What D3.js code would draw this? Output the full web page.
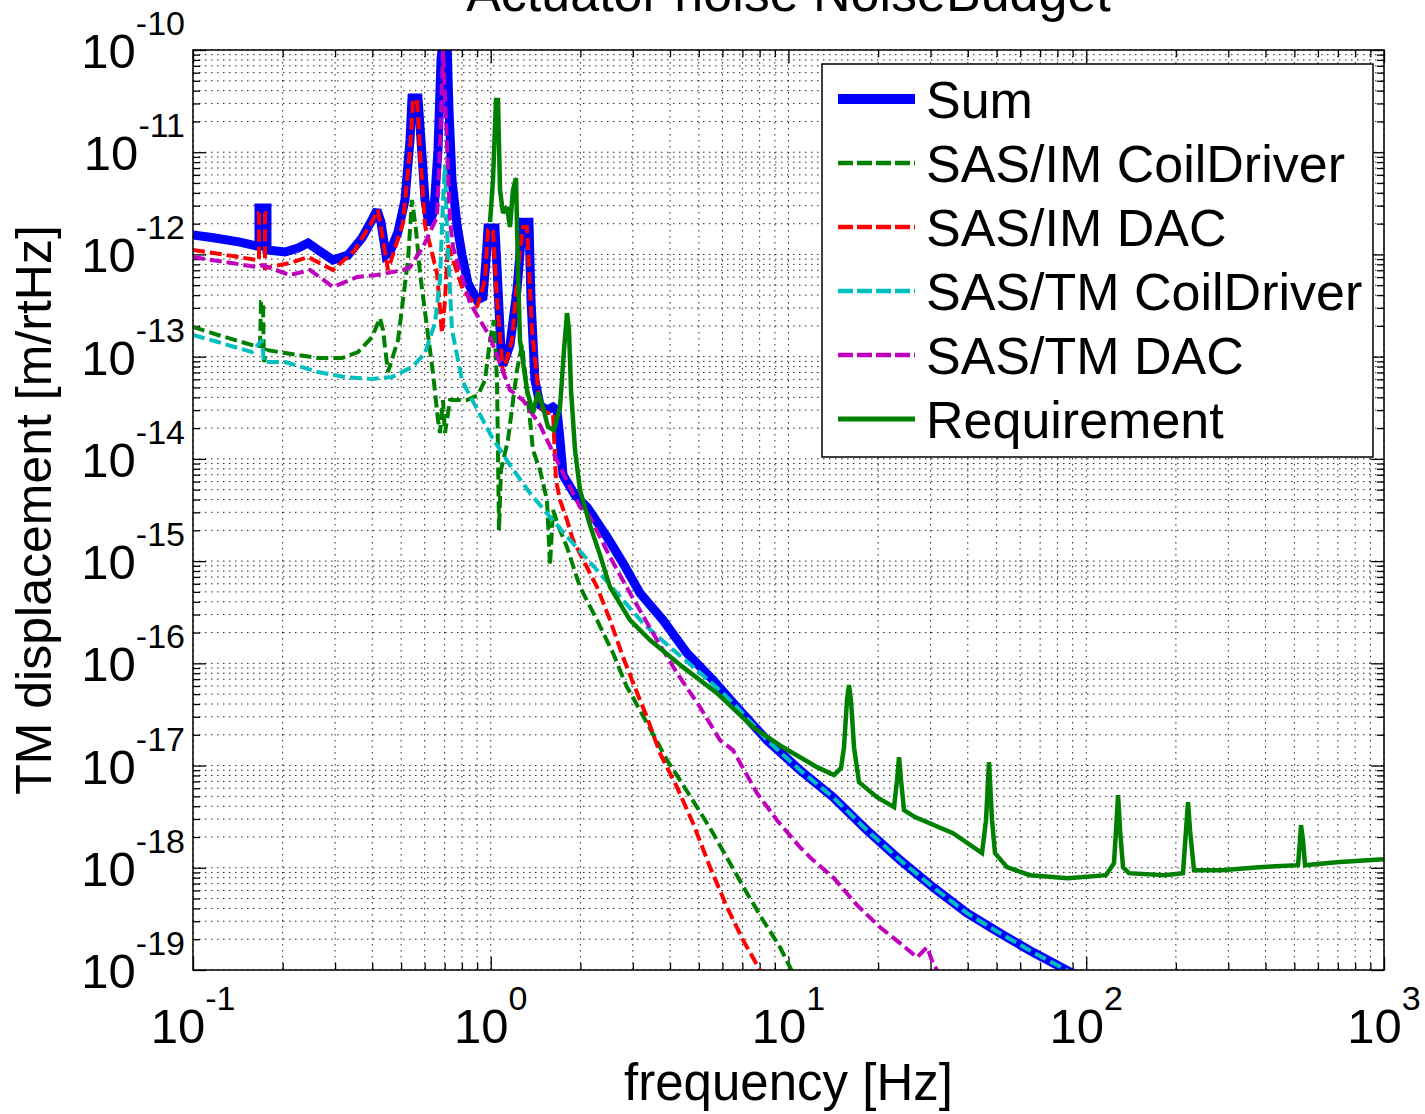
<!DOCTYPE html>
<html><head><meta charset="utf-8">
<script src="https://cdn.jsdelivr.net/npm/d3@7"></script>
<style>
html,body{margin:0;padding:0;background:#fff;}
svg{display:block;font-family:"Liberation Sans", Arial, Helvetica, sans-serif;}
</style></head><body>
<svg id="chart" width="1425" height="1114"></svg>
<script>
// ---------------- data ----------------
const titleText = "Actuator noise NoiseBudget";
const xLabelText = "frequency [Hz]";
const yLabelText = "TM displacement [m/rtHz]";
const xTickExponents = [-1, 0, 1, 2, 3];
const yTickExponents = [-19, -18, -17, -16, -15, -14, -13, -12, -11, -10];
const seriesNames = ["Sum", "SAS/IM CoilDriver", "SAS/IM DAC", "SAS/TM CoilDriver", "SAS/TM DAC", "Requirement"];

// [frequency Hz, displacement m/rtHz]
const sumData = [
 [0.1,1.548e-12],[0.1186,1.447e-12],[0.1438,1.322e-12],[0.164,1.208e-12],[0.1666,1.208e-12],[0.1666,2.84e-12],
 [0.1772,2.84e-12],[0.1772,1.104e-12],[0.2037,1.056e-12],[0.2253,1.155e-12],[0.2434,1.293e-12],[0.263,1.104e-12],
 [0.2953,8.81e-13],[0.3316,9.86e-13],[0.3695,1.447e-12],[0.3992,2.17e-12],[0.415,2.72e-12],[0.4279,2.07e-12],
 [0.4448,9.86e-13],[0.4588,1.056e-12],[0.4881,1.657e-12],[0.5152,3.41e-12],[0.5356,1.316e-11],[0.5439,3.39e-11],
 [0.5697,3.39e-11],[0.583,1.316e-11],[0.6014,3.41e-12],[0.6203,1.94e-12],[0.6447,2.72e-12],[0.665,1.051e-11],
 [0.6806,7.98e-11],[0.6912,1.25e-10],[0.7129,1.25e-10],[0.724,2.59e-11],[0.7411,5.35e-12],[0.7704,1.94e-12],
 [0.8008,9.86e-13],[0.8387,5.25e-13],[0.8991,3.58e-13],[0.9419,3.83e-13],[0.9641,8.81e-13],[0.979,1.813e-12],
 [1.0335,1.813e-12],[1.0495,7.53e-13],[1.0824,1.16e-13],[1.0993,8.28e-14],[1.1603,1.299e-13],[1.225,4.48e-13],
 [1.2635,1.383e-12],[1.2832,2.07e-12],[1.3441,2.07e-12],[1.3651,3.58e-13],[1.4079,5.9e-14],[1.4634,3.36e-14],
 [1.5449,3.0e-14],[1.6185,3.21e-14],[1.6693,3.0e-14],[1.7086,1.53e-14],[1.7488,6.94e-15],[1.9189,4.42e-15],
 [2.1055,3.38e-15],[2.4578,1.72e-15],[2.7816,9.56e-16],[3.1718,4.86e-16],[3.7887,2.65e-16],[4.5618,1.26e-16],
 [5.5787,6.85e-17],[6.7143,3.73e-17],[8.4698,1.77e-17],[10.93,9.02e-18],[14.105,4.91e-18],[18.346,2.33e-18],
 [23.694,1.19e-18],[30.573,6.46e-19],[39.775,3.6e-19],[51.329,2.29e-19],[66.25,1.49e-19],[83.54,1.041e-19],[95.28,8.5e-20]
];
const imCoilData = [
 [0.1,1.95e-13],[0.1213,1.63e-13],[0.1578,1.299e-13],[0.1679,1.27e-13],[0.1692,3.42e-13],[0.1718,3.42e-13],
 [0.1731,8.86e-14],[0.1772,1.16e-13],[0.2037,1.084e-13],[0.263,9.69e-14],[0.3166,9.69e-14],[0.3582,1.109e-13],
 [0.3992,1.555e-13],[0.4246,2.39e-13],[0.4346,1.82e-13],[0.4517,7.07e-14],[0.4881,1.453e-13],[0.5273,8.81e-13],
 [0.5439,3.41e-12],[0.561,1.733e-12],[0.5786,6.58e-13],[0.6397,6.91e-14],[0.665,2.4e-14],[0.6753,1.79e-14],
 [0.6912,3.76e-14],[0.702,1.79e-14],[0.7297,3.76e-14],[0.8323,3.76e-14],[0.9061,4.21e-14],[0.9566,5.9e-14],
 [0.9943,1.453e-13],[1.0254,2.28e-13],[1.0495,5.9e-14],[1.066,2.01e-15],[1.0824,7.77e-15],[1.1426,1.53e-14],
 [1.225,7.39e-14],[1.2735,1.299e-13],[1.3234,4.71e-14],[1.3863,1.22e-14],[1.4634,7.77e-15],[1.5449,3.95e-15],
 [1.5812,9.14e-16],[1.6185,3.16e-15],[1.7086,2.01e-15],[1.8035,1.37e-15],[1.9942,5.57e-16],[2.275,2.65e-16],
 [2.5748,1.26e-16],[2.8465,6.12e-17],[3.348,2.6e-17],[3.9076,1.13e-17],[4.3212,7.2e-18],[4.9289,3.92e-18],
 [5.5787,2.18e-18],[6.3611,1.11e-18],[7.2551,5.64e-19],[8.2124,3.07e-19],[9.3649,1.67e-19],[10.354,9.3e-20],[10.679,7.1e-20]
];
const imDacData = [
 [0.1,1.104e-12],[0.1232,1.009e-12],[0.164,8.81e-13],[0.1666,8.81e-13],[0.1666,2.54e-12],[0.1745,2.54e-12],
 [0.1745,7.36e-13],[0.2118,8.24e-13],[0.2434,9.43e-13],[0.2953,7.04e-13],[0.35,1.104e-12],[0.4023,2.17e-12],
 [0.4182,2.72e-12],[0.4517,7.04e-13],[0.5073,2.03e-12],[0.5356,1.051e-11],[0.5482,3.24e-11],[0.5653,3.24e-11],
 [0.5786,1.051e-11],[0.6014,1.94e-12],[0.6598,6.58e-13],[0.6859,1.7e-13],[0.702,3.58e-13],[0.7185,1.236e-12],
 [0.7469,8.81e-13],[0.807,4.48e-13],[0.8991,3.06e-13],[0.9566,5.62e-13],[0.979,1.733e-12],[1.0176,1.733e-12],
 [1.0495,3.58e-13],[1.0993,6.91e-14],[1.1785,1.453e-13],[1.2536,1.104e-12],[1.2832,1.854e-12],[1.3234,1.854e-12],
 [1.3755,1.82e-13],[1.4634,3.21e-14],[1.5449,2.81e-14],[1.6185,2.81e-14],[1.6563,6.2e-15],[1.7086,3.95e-15],
 [1.8035,2.52e-15],[1.8894,1.61e-15],[2.275,5.57e-16],[2.5156,2.65e-16],[2.7816,1.15e-16],[3.1718,4.36e-17],
 [3.348,2.98e-17],[3.7015,1.32e-17],[4.2218,6.15e-18],[4.7789,2.73e-18],[5.4517,1.014e-18],[6.2148,4.12e-19],
 [7.0344,1.96e-19],[8.0235,9.95e-20],[8.3401,7.1e-20]
];
const tmCoilData = [
 [0.1,1.63e-13],[0.1213,1.39e-13],[0.1578,1.109e-13],[0.1705,1.453e-13],[0.1731,8.86e-14],[0.2037,8.86e-14],
 [0.263,7.07e-14],[0.324,6.32e-14],[0.3992,6.04e-14],[0.4659,6.32e-14],[0.5439,7.91e-14],[0.6014,1.084e-13],
 [0.6497,2.13e-13],[0.6753,5.62e-13],[0.6912,3.41e-12],[0.702,7.5e-12],[0.7129,1.733e-12],[0.7411,1.82e-13],
 [0.8008,5.9e-14],[0.8323,4.71e-14],[0.8853,3.36e-14],[1.0097,1.63e-14],[1.1603,8.7e-15],[1.3544,4.63e-15],
 [1.5812,2.7e-15],[1.846,1.61e-15],[2.275,8.16e-16],[2.7816,4.15e-16],[3.2457,2.47e-16],[3.9994,1.44e-16],
 [4.9289,8.58e-17],[6.0256,5.11e-17],[6.7143,3.73e-17],[8.4698,1.77e-17],[10.93,9.02e-18],[14.105,4.91e-18],
 [18.346,2.33e-18],[23.694,1.19e-18],[30.573,6.46e-19],[39.775,3.6e-19],[51.329,2.29e-19],[66.25,1.49e-19],
 [83.54,1.041e-19],[95.28,8.5e-20]
];
const tmDacData = [
 [0.1,9.43e-13],[0.164,7.53e-13],[0.1705,7.88e-13],[0.2118,6.29e-13],[0.2472,7.04e-13],[0.2953,4.8e-13],
 [0.3555,6.01e-13],[0.415,6.29e-13],[0.5073,7.04e-13],[0.5356,7.53e-13],[0.5922,1.181e-12],[0.6598,2.32e-12],
 [0.6806,2.07e-11],[0.6912,1.0e-10],[0.7074,2.07e-11],[0.7297,2.17e-12],[0.7469,1.181e-12],[0.8518,3.35e-13],
 [0.9943,1.555e-13],[1.1603,4.71e-14],[1.2832,3.76e-14],[1.4634,2.14e-14],[1.7086,8.32e-15],[1.9942,3.38e-15],
 [2.1544,2.7e-15],[2.5156,1.094e-15],[2.9361,4.86e-16],[3.6165,1.69e-16],[4.2218,8.02e-17],[5.0449,3.73e-17],
 [5.8884,1.77e-17],[6.5105,1.415e-17],[7.8393,5.37e-18],[9.1497,2.92e-18],[10.93,1.59e-18],[12.085,1.19e-18],
 [14.105,8.09e-19],[16.986,4.31e-19],[20.294,2.62e-19],[23.694,1.83e-19],[27.013,1.33e-19],[29.185,1.67e-19],
 [30.573,1.166e-19],[32.27,8.89e-20]
];
const reqData = [
 [0.9943,2.07e-12],[1.0176,5.35e-12],[1.0414,3.24e-11],[1.0576,3.24e-11],[1.0742,4.27e-12],[1.0993,2.54e-12],
 [1.1339,2.91e-12],[1.1603,1.854e-12],[1.1875,4.27e-12],[1.2155,5.59e-12],[1.2344,7.04e-13],[1.2536,1.453e-13],
 [1.3234,4.71e-14],[1.3863,2.81e-14],[1.441,4.5e-14],[1.4979,3.21e-14],[1.557,2.05e-14],[1.6308,1.91e-14],
 [1.7086,3.21e-14],[1.762,1.16e-13],[1.8035,2.67e-13],[1.8316,1.82e-13],[1.8605,4.71e-14],[1.9189,1.22e-14],
 [1.9942,4.95e-15],[2.1544,2.25e-15],[2.3285,1.145e-15],[2.5156,5.57e-16],[2.9361,2.65e-16],[3.4262,1.69e-16],
 [4.4229,9.18e-17],[5.7544,5.11e-17],[7.6009,2.37e-17],[9.5831,1.51e-17],[12.465,9.65e-18],[14.215,8.06e-18],
 [15.006,9.43e-18],[15.359,1.51e-17],[15.721,4.36e-17],[15.965,6.12e-17],[16.214,4.36e-17],[16.596,1.51e-17],
 [17.251,6.88e-18],[19.828,4.91e-18],[22.616,3.92e-18],[23.148,7.2e-18],[23.509,1.21e-17],[23.874,7.2e-18],
 [24.437,3.66e-18],[26.6,3.13e-18],[35.686,2.18e-18],[44.662,1.39e-18],[46.063,2.92e-18],[47.147,1.08e-17],
 [48.256,2.92e-18],[49.38,1.39e-18],[54.181,1.014e-18],[64.728,8.46e-19],[86.84,7.91e-19],[116.5,8.46e-19],
 [123.9,1.11e-18],[125.9,2.33e-18],[127.9,5.13e-18],[129.9,2.33e-18],[132.9,1.014e-18],[139.2,8.86e-19],
 [182.4,8.46e-19],[211.3,8.86e-19],[216.3,2.33e-18],[219.7,4.38e-18],[223.1,2.33e-18],[230.1,9.47e-19],
 [283.6,9.47e-19],[380.4,1.014e-18],[514.3,1.06e-18],[522.3,1.86e-18],[526.4,2.61e-18],[534.6,1.86e-18],
 [542.9,1.06e-18],[690.1,1.13e-18],[1000,1.21e-18]
];
const seriesData = [sumData, imCoilData, imDacData, tmCoilData, tmDacData, reqData];

// ---------------- styles / layout ----------------
const styles = [
 {color:"#0000ff", width:9,   dash:null},
 {color:"#008000", width:4,   dash:"12,5"},
 {color:"#ff0000", width:4,   dash:"12,5"},
 {color:"#00bfbf", width:4,   dash:"12,5"},
 {color:"#bf00bf", width:4,   dash:"12,5"},
 {color:"#008000", width:4.5, dash:null}
];
const L = 193, R = 1384, T = 50, B = 970;

const svg = d3.select("#chart");
const x = d3.scaleLog().domain([0.1, 1000]).range([L, R]);
const y = d3.scaleLog().domain([1e-19, 1e-10]).range([B, T]);

const xMajor = xTickExponents.map(e => Math.pow(10, e));
const yMajor = yTickExponents.map(e => Math.pow(10, e));
const xMinor = [], yMinor = [];
for (let e = -1; e < 3; e++) for (let m = 2; m <= 9; m++) xMinor.push(m * Math.pow(10, e));
for (let e = -19; e < -10; e++) for (let m = 2; m <= 9; m++) yMinor.push(m * Math.pow(10, e));

svg.append("rect").attr("x",0).attr("y",0).attr("width",1425).attr("height",1114).attr("fill","#fff");

// grid
const grid = svg.append("g").attr("stroke","#000").attr("stroke-width",1).attr("stroke-dasharray","1.5,4.5").attr("opacity",0.85);
xMajor.concat(xMinor).forEach(v => {
  grid.append("line").attr("x1",x(v)).attr("x2",x(v)).attr("y1",T).attr("y2",B);
});
yMajor.concat(yMinor).forEach(v => {
  grid.append("line").attr("y1",y(v)).attr("y2",y(v)).attr("x1",L).attr("x2",R);
});

// ticks via d3 axes (inward)
function axisGroup(axis, tx, ty) {
  const g = svg.append("g").attr("transform",`translate(${tx},${ty})`).call(axis);
  g.select(".domain").remove();
  g.selectAll("line").attr("stroke","#000").attr("stroke-width",1.3);
  g.selectAll("text").remove();
  return g;
}
const MAJ = 13, MIN = 7;
axisGroup(d3.axisBottom(x).tickValues(xMajor).tickSize(-MAJ).tickSizeOuter(0).tickFormat(""), 0, B);
axisGroup(d3.axisBottom(x).tickValues(xMinor).tickSize(-MIN).tickSizeOuter(0).tickFormat(""), 0, B);
axisGroup(d3.axisTop(x).tickValues(xMajor).tickSize(-MAJ).tickSizeOuter(0).tickFormat(""), 0, T);
axisGroup(d3.axisTop(x).tickValues(xMinor).tickSize(-MIN).tickSizeOuter(0).tickFormat(""), 0, T);
axisGroup(d3.axisLeft(y).tickValues(yMajor).tickSize(-MAJ).tickSizeOuter(0).tickFormat(""), L, 0);
axisGroup(d3.axisLeft(y).tickValues(yMinor).tickSize(-MIN).tickSizeOuter(0).tickFormat(""), L, 0);
axisGroup(d3.axisRight(y).tickValues(yMajor).tickSize(-MAJ).tickSizeOuter(0).tickFormat(""), R, 0);
axisGroup(d3.axisRight(y).tickValues(yMinor).tickSize(-MIN).tickSizeOuter(0).tickFormat(""), R, 0);

// curves
svg.append("clipPath").attr("id","plotclip").append("rect")
  .attr("x",L).attr("y",T).attr("width",R-L).attr("height",B-T);
const line = d3.line().x(d => x(d[0])).y(d => y(d[1]));
const curves = svg.append("g").attr("clip-path","url(#plotclip)");
seriesData.forEach((data, i) => {
  const s = styles[i];
  curves.append("path").datum(data).attr("d", line)
    .attr("fill","none").attr("stroke",s.color).attr("stroke-width",s.width)
    .attr("stroke-linejoin","miter").attr("stroke-miterlimit",2)
    .attr("stroke-dasharray", s.dash);
});

// axes box
svg.append("rect").attr("x",L).attr("y",T).attr("width",R-L).attr("height",B-T)
  .attr("fill","none").attr("stroke","#000").attr("stroke-width",1.5);

// tick labels
const fsMain = 49, fsSup = 34;
xTickExponents.forEach(e => {
  const t = svg.append("text").attr("x", x(Math.pow(10,e))).attr("y", 1043)
    .attr("text-anchor","middle").attr("font-size",fsMain).attr("fill","#000");
  t.append("tspan").text("10");
  t.append("tspan").attr("font-size",fsSup).attr("dy",-33).text(String(e));
});
yTickExponents.forEach(e => {
  const t = svg.append("text").attr("x", 185).attr("y", y(Math.pow(10,e)) + 18)
    .attr("text-anchor","end").attr("font-size",fsMain).attr("fill","#000");
  t.append("tspan").text("10");
  t.append("tspan").attr("font-size",fsSup).attr("dy",-33).text(String(e));
});

// title and axis labels
svg.append("text").attr("x", (L+R)/2).attr("y", 11).attr("text-anchor","middle")
  .attr("font-size",52).attr("fill","#000").text(titleText);
svg.append("text").attr("x", (L+R)/2).attr("y", 1100).attr("text-anchor","middle")
  .attr("font-size",51).attr("fill","#000").text(xLabelText);
svg.append("text").attr("transform", `translate(51,${(T+B)/2}) rotate(-90)`).attr("text-anchor","middle")
  .attr("font-size",50).attr("fill","#000").text(yLabelText);

// legend
const lg = svg.append("g");
lg.append("rect").attr("x",822).attr("y",64).attr("width",551).attr("height",393)
  .attr("fill","#fff").attr("stroke","#000").attr("stroke-width",1.5);
seriesNames.forEach((name, i) => {
  const cy = 99 + i * 64;
  const s = styles[i];
  lg.append("line").attr("x1",838).attr("x2",915).attr("y1",cy).attr("y2",cy)
    .attr("stroke",s.color).attr("stroke-width", i === 0 ? 10 : (i === 5 ? 5 : 4.5))
    .attr("stroke-dasharray", s.dash ? "15,4" : null);
  lg.append("text").attr("x",926).attr("y",cy + 19).attr("font-size",52).attr("fill","#000").text(name);
});
</script>
</body></html>
